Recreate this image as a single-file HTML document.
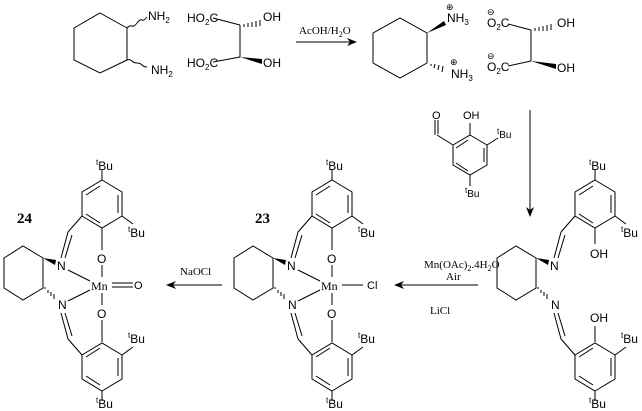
<!DOCTYPE html>
<html><head><meta charset="utf-8"><style>
html,body{margin:0;padding:0;background:#fff;}
svg{display:block;}
text{font-family:"Liberation Sans",sans-serif;font-size:12px;fill:#000;}
.t{font-family:"Liberation Serif",serif;font-size:11px;}
.b{font-family:"Liberation Serif",serif;font-size:15px;font-weight:bold;}
.s{font-size:8px;}
</style></head><body>
<svg width="642" height="411" viewBox="0 0 642 411" xmlns="http://www.w3.org/2000/svg">
<defs>
<marker id="ah" markerWidth="10" markerHeight="8" refX="9" refY="4" orient="auto" markerUnits="userSpaceOnUse">
<path d="M0,0 L10,4 L0,8 L3,4z" fill="#000"/></marker>
<g id="halfg" fill="none" stroke="#000" stroke-width="1">
<polygon points="102,180 122,192 122,216 102,228 82,216 82,192"/>
<line x1="118" y1="195" x2="118" y2="213"/><line x1="86" y1="195" x2="100" y2="186"/><line x1="100" y1="223" x2="86" y2="214"/>
<line x1="102" y1="180" x2="102" y2="170"/>
<line x1="122" y1="216" x2="133" y2="224"/>
<line x1="82" y1="216" x2="68" y2="232"/>
<line x1="68" y1="232" x2="61" y2="258"/><line x1="72" y1="235" x2="65" y2="258"/>
</g>
<g id="salen">
<use href="#halfg"/>
<use href="#halfg" transform="translate(0,571) scale(1,-1)"/>
<text x="96" y="170"><tspan class="s" dy="-5">t</tspan><tspan dy="5">Bu</tspan></text>
<text x="128" y="237"><tspan class="s" dy="-5">t</tspan><tspan dy="5">Bu</tspan></text>
<text x="128" y="343"><tspan class="s" dy="-5">t</tspan><tspan dy="5">Bu</tspan></text>
<text x="96" y="408"><tspan class="s" dy="-5">t</tspan><tspan dy="5">Bu</tspan></text>
<polygon points="4,258 23,246 43,258 43,288 23,300 4,288" fill="none" stroke="#000"/>
<polygon points="43,258 56,260 55,265" fill="#000"/>
<g stroke="#000"><line x1="45" y1="289" x2="45" y2="287"/><line x1="48" y1="293" x2="48" y2="290"/><line x1="51" y1="296" x2="51" y2="292"/><line x1="54" y1="299" x2="54" y2="294"/></g>
<text x="57" y="270">N</text><text x="58" y="309">N</text>
</g>
<g id="metal">
<use href="#salen"/>
<line x1="102" y1="228" x2="102" y2="250" stroke="#000"/><text x="97" y="263">O</text>
<line x1="102" y1="265" x2="102" y2="277" stroke="#000"/>
<line x1="102" y1="293" x2="102" y2="305" stroke="#000"/>
<text x="97" y="318">O</text><line x1="102" y1="320" x2="102" y2="342" stroke="#000"/>
<text x="91" y="290" class="t" style="font-size:12px">Mn</text>
<line x1="68" y1="270" x2="90" y2="281" stroke="#000"/><line x1="68" y1="301" x2="90" y2="290" stroke="#000"/>
</g>
</defs>

<!-- top left -->
<g fill="none" stroke="#000">
<polygon points="100,13 127,28 127,60 100,73 74,60 74,28"/>
<path d="M127,28 q3,-3 5,-2 t5,-3 t5,-3 t5,-3"/>
<path d="M127,60 q3,-1 5,1 t5,2 t5,2 t5,2"/>
<line x1="213" y1="18" x2="240" y2="25"/><line x1="213" y1="62" x2="240" y2="57"/><line x1="240" y1="25" x2="240" y2="57"/>
</g>
<g stroke="#000"><line x1="244" y1="24" x2="244" y2="27"/><line x1="248" y1="23" x2="248" y2="27"/><line x1="252" y1="22" x2="252" y2="27"/><line x1="256" y1="21" x2="256" y2="27"/><line x1="260" y1="20" x2="260" y2="26"/></g>
<polygon points="240,57 262,59 262,64" fill="#000"/>
<text x="148" y="20">NH<tspan class="s" dy="3">2</tspan></text>
<text x="151" y="74">NH<tspan class="s" dy="3">2</tspan></text>
<text x="187" y="22">HO<tspan class="s" dy="3">2</tspan><tspan dy="-3">C</tspan></text>
<text x="187" y="67">HO<tspan class="s" dy="3">2</tspan><tspan dy="-3">C</tspan></text>
<text x="263" y="21">OH</text><text x="263" y="67">OH</text>
<text x="299" y="34" class="t">AcOH/H<tspan class="s" dy="3">2</tspan><tspan dy="-3">O</tspan></text>
<line x1="296" y1="42" x2="356" y2="42" stroke="#000" marker-end="url(#ah)"/>

<!-- top right product -->
<polygon points="373,33 400,18 427,33 427,63 400,78 373,63" fill="none" stroke="#000"/>
<polygon points="427,33 444,21 446,25" fill="#000"/>
<g stroke="#000"><line x1="431" y1="64" x2="431" y2="66"/><line x1="435" y1="64" x2="434" y2="68"/><line x1="439" y1="65" x2="438" y2="70"/><line x1="443" y1="66" x2="442" y2="72"/></g>
<text x="447" y="22">NH<tspan class="s" dy="3">3</tspan></text><text x="446" y="10" style="font-size:9px">⊕</text>
<text x="451" y="78">NH<tspan class="s" dy="3">3</tspan></text><text x="450" y="65" style="font-size:9px">⊕</text>
<text x="487" y="27">O<tspan class="s" dy="3">2</tspan><tspan dy="-3">C</tspan></text><text x="487" y="15" style="font-size:9px">⊖</text>
<text x="487" y="71">O<tspan class="s" dy="3">2</tspan><tspan dy="-3">C</tspan></text><text x="487" y="59" style="font-size:9px">⊖</text>
<g stroke="#000"><line x1="508" y1="24" x2="531" y2="30"/><line x1="508" y1="66" x2="531" y2="61"/><line x1="531" y1="30" x2="531" y2="61"/>
<line x1="535" y1="28" x2="535" y2="31"/><line x1="539" y1="27" x2="539" y2="31"/><line x1="543" y1="26" x2="543" y2="31"/><line x1="547" y1="25" x2="547" y2="31"/><line x1="551" y1="24" x2="551" y2="30"/></g>
<polygon points="531,61 556,64 556,69" fill="#000"/>
<text x="557" y="27">OH</text><text x="557" y="72">OH</text>

<!-- aldehyde -->
<g fill="none" stroke="#000">
<polygon points="470,135 487,145 487,165 470,175 453,165 453,145"/>
<line x1="484" y1="148" x2="484" y2="162"/><line x1="456" y1="148" x2="468" y2="140"/><line x1="468" y1="171" x2="456" y2="163"/>
<line x1="470" y1="135" x2="470" y2="123"/><line x1="453" y1="145" x2="437" y2="135"/>
<line x1="435" y1="135" x2="435" y2="120"/><line x1="438" y1="134" x2="438" y2="120"/>
<line x1="487" y1="145" x2="498" y2="138"/><line x1="470" y1="175" x2="470" y2="186"/>
</g>
<text x="432" y="119" style="font-size:11px">O</text><text x="463" y="119" style="font-size:11px">OH</text>
<text x="497" y="138" style="font-size:10px"><tspan class="s" dy="-4">t</tspan><tspan dy="4">Bu</tspan></text>
<text x="465" y="197" style="font-size:10px"><tspan class="s" dy="-4">t</tspan><tspan dy="4">Bu</tspan></text>
<line x1="530" y1="110" x2="530" y2="216" stroke="#000" marker-end="url(#ah)"/>

<!-- complexes -->
<use href="#metal"/>
<line x1="112" y1="283" x2="133" y2="283" stroke="#000"/><line x1="112" y1="287" x2="133" y2="287" stroke="#000"/>
<text x="134" y="289" style="font-size:11px">O</text>
<text x="17" y="223" class="b">24</text>
<text x="180" y="275" class="t">NaOCl</text>
<line x1="222" y1="285" x2="167" y2="285" stroke="#000" marker-end="url(#ah)"/>

<g transform="translate(230,0)">
<use href="#metal"/>
<line x1="112" y1="285" x2="133" y2="285" stroke="#000"/>
<text x="137" y="289" style="font-size:11px">Cl</text>
<text x="25" y="223" class="b">23</text>
</g>
<text x="424" y="268" class="t">Mn(OAc)<tspan class="s" dy="3">2</tspan><tspan dy="-3">.4H</tspan><tspan class="s" dy="3">2</tspan><tspan dy="-3">O</tspan></text>
<text x="446" y="280" class="t">Air</text>
<text x="430" y="314" class="t">LiCl</text>
<line x1="478" y1="285" x2="395" y2="285" stroke="#000" marker-end="url(#ah)"/>

<g transform="translate(493,0)">
<use href="#salen"/>
<line x1="102" y1="228" x2="102" y2="244" stroke="#000"/><text x="97" y="258">OH</text>
<text x="97" y="322">OH</text><line x1="102" y1="326" x2="102" y2="342" stroke="#000"/>
</g>
</svg>
</body></html>
